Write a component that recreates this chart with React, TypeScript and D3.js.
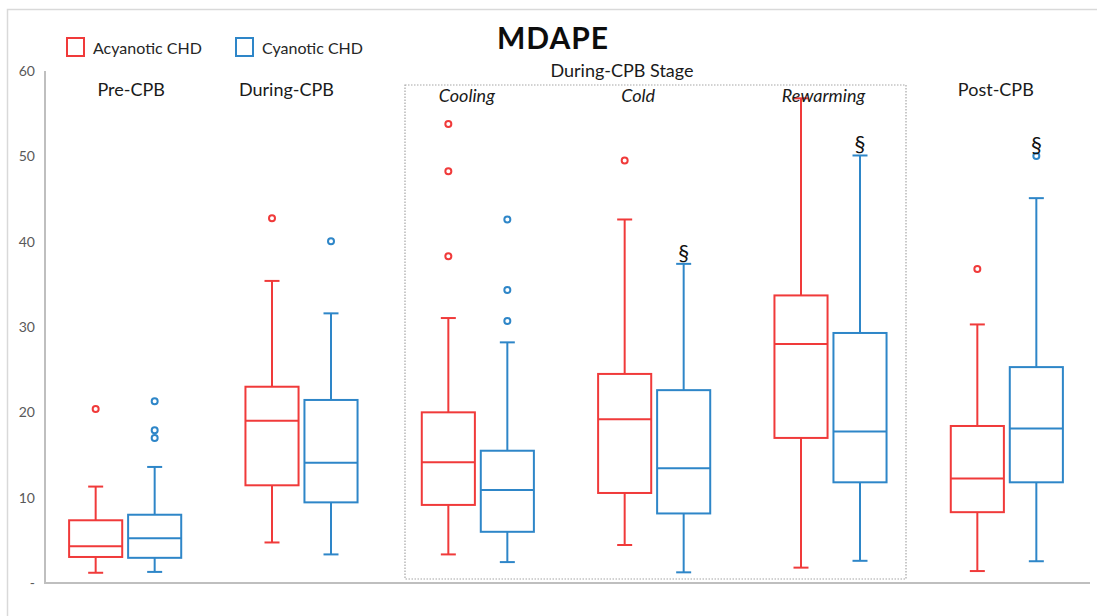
import React, { useEffect, useRef } from "react";
import * as d3 from "d3";

const groups = ["Pre-CPB", "During-CPB", "Cooling", "Cold", "Rewarming", "Post-CPB"];
const series = ["Acyanotic CHD", "Cyanotic CHD"];
const colors = ["#F03A3A", "#2E86C8"];

// [min, q1, median, q3, max] for each group
const acyanoticStats = [
  [1.2, 3.05, 4.3, 7.35, 11.3],
  [4.75, 11.45, 19.0, 23.0, 35.4],
  [3.35, 9.15, 14.15, 20.0, 31.05],
  [4.45, 10.55, 19.2, 24.5, 42.6],
  [1.8, 17.0, 28.0, 33.7, 56.8],
  [1.4, 8.3, 12.25, 18.4, 30.3],
];
const cyanoticStats = [
  [1.3, 2.95, 5.25, 8.0, 13.6],
  [3.35, 9.45, 14.1, 21.45, 31.6],
  [2.45, 6.0, 10.9, 15.5, 28.2],
  [1.25, 8.15, 13.45, 22.6, 37.4],
  [2.6, 11.8, 17.75, 29.3, 50.1],
  [2.55, 11.8, 18.1, 25.3, 45.1],
];
const acyanoticOutliers = [[20.4], [42.75], [53.8, 48.25, 38.3], [49.5], [], [36.8]];
const cyanoticOutliers = [[21.3, 17.9, 17.0], [40.05], [42.6, 34.35, 30.7], [], [], [50.05]];

// groups where the cyanotic box carries a § mark
const markedGroups = ["Cold", "Rewarming", "Post-CPB"];
const stageGroups = ["Cooling", "Cold", "Rewarming"];
const yTicks = [0, 10, 20, 30, 40, 50, 60];

export default function App() {
  const ref = useRef<SVGSVGElement>(null);

  useEffect(() => {
    const svg = d3.select(ref.current);
    svg.selectAll("*").remove();

    const width = 1097;
    const height = 616;
    const font = "Lato, 'Open Sans', sans-serif";

    svg.attr("width", width).attr("height", height);

    svg.append("rect")
      .attr("width", width).attr("height", height).attr("fill", "#fff");
    // outer frame
    svg.append("rect")
      .attr("x", 7.5).attr("y", 9.5)
      .attr("width", 1120).attr("height", 640)
      .attr("fill", "none").attr("stroke", "#d9d9d9").attr("stroke-width", 1.5);

    const y = d3.scaleLinear().domain([0, 60]).range([583, 71]);
    const x = d3.scaleBand().domain(groups).range([37, 1095]).padding(0);
    const xs = d3.scaleBand().domain(series).range([-59, 59]).padding(0);
    const cx = (g: string, s: string) => (x(g) as number) + x.bandwidth() / 2 + (xs(s) as number) + xs.bandwidth() / 2;
    const boxW = xs.bandwidth() * 0.9;
    const capW = 15;

    // axes
    svg.append("line")
      .attr("x1", 45).attr("x2", 45).attr("y1", y(60)).attr("y2", y(0))
      .attr("stroke", "#bfbfbf").attr("stroke-width", 2);
    svg.append("line")
      .attr("x1", 44).attr("x2", 1090).attr("y1", y(0)).attr("y2", y(0))
      .attr("stroke", "#bfbfbf").attr("stroke-width", 2);

    svg.append("g")
      .selectAll("text")
      .data(yTicks)
      .join("text")
      .attr("x", 35)
      .attr("y", d => y(d) + 5)
      .attr("text-anchor", "end")
      .attr("font-family", font)
      .attr("font-size", 14)
      .attr("fill", "#595959")
      .text(d => (d === 0 ? "-" : String(d)));

    // dotted frame around the during-CPB stages
    const stageLeft = 405;
    const stageRight = 906;
    svg.append("rect")
      .attr("x", stageLeft).attr("y", 85)
      .attr("width", stageRight - stageLeft).attr("height", 579 - 85)
      .attr("fill", "none").attr("stroke", "#a6a6a6")
      .attr("stroke-width", 1.2).attr("stroke-dasharray", "1.5,1.5");

    const allStats = [acyanoticStats, cyanoticStats];
    const allOutliers = [acyanoticOutliers, cyanoticOutliers];

    series.forEach((s, si) => {
      const color = colors[si];
      const layer = svg.append("g").attr("stroke", color).attr("stroke-width", 2).attr("fill", "none");
      groups.forEach((g, gi) => {
        const [lo, q1, med, q3, hi] = allStats[si][gi];
        const c = cx(g, s);
        const b = layer.append("g");
        b.append("line").attr("x1", c).attr("x2", c).attr("y1", y(hi)).attr("y2", y(q3));
        b.append("line").attr("x1", c).attr("x2", c).attr("y1", y(q1)).attr("y2", y(lo));
        b.append("line").attr("x1", c - capW / 2).attr("x2", c + capW / 2).attr("y1", y(hi)).attr("y2", y(hi));
        b.append("line").attr("x1", c - capW / 2).attr("x2", c + capW / 2).attr("y1", y(lo)).attr("y2", y(lo));
        b.append("rect")
          .attr("x", c - boxW / 2).attr("y", y(q3))
          .attr("width", boxW).attr("height", y(q1) - y(q3))
          .attr("fill", "#fff");
        b.append("line").attr("x1", c - boxW / 2).attr("x2", c + boxW / 2).attr("y1", y(med)).attr("y2", y(med));
        b.selectAll("circle")
          .data(allOutliers[si][gi])
          .join("circle")
          .attr("cx", c).attr("cy", d => y(d)).attr("r", 3)
          .attr("fill", "#fff");
      });
    });

    // § marks over cyanotic boxes
    svg.append("g")
      .selectAll("text")
      .data(markedGroups)
      .join("text")
      .attr("x", g => cx(g, series[1]))
      .attr("y", g => {
        const gi = groups.indexOf(g);
        const top = Math.max(cyanoticStats[gi][4], ...cyanoticOutliers[gi]);
        return y(top) - 4;
      })
      .attr("text-anchor", "middle")
      .attr("font-family", font)
      .attr("font-size", 22)
      .attr("fill", "#111")
      .text("§");

    // group labels
    const labelDx = [6, -15, -11, -16, -7, -11];
    svg.append("g")
      .selectAll("text")
      .data(groups)
      .join("text")
      .attr("x", (g, i) => (x(g) as number) + x.bandwidth() / 2 + labelDx[i])
      .attr("y", g => (stageGroups.includes(g) ? 102 : 96))
      .attr("text-anchor", "middle")
      .attr("font-family", font)
      .attr("font-size", 18)
      .attr("font-style", g => (stageGroups.includes(g) ? "italic" : "normal"))
      .attr("fill", "#1a1a1a")
      .text(g => g);

    svg.append("text")
      .attr("x", 622).attr("y", 77)
      .attr("text-anchor", "middle")
      .attr("font-family", font).attr("font-size", 18)
      .attr("fill", "#1a1a1a")
      .text("During-CPB Stage");

    // title
    svg.append("text")
      .attr("x", 553).attr("y", 49)
      .attr("text-anchor", "middle")
      .attr("font-family", font).attr("font-size", 30).attr("font-weight", "bold")
      .attr("letter-spacing", 1)
      .attr("fill", "#0d0d0d")
      .text("MDAPE");

    // legend
    const legendX = [67, 236];
    const legend = svg.append("g")
      .selectAll("g")
      .data(series)
      .join("g")
      .attr("transform", (d, i) => `translate(${legendX[i]},38)`);
    legend.append("rect")
      .attr("width", 17).attr("height", 18)
      .attr("fill", "none").attr("stroke", (d, i) => colors[i]).attr("stroke-width", 2);
    legend.append("text")
      .attr("x", 26).attr("y", 16)
      .attr("font-family", font).attr("font-size", 16)
      .attr("fill", "#262626")
      .text(d => d);
  }, []);

  return (
    <div style={{ position: "fixed", left: 0, top: 0 }}>
      <svg ref={ref}></svg>
    </div>
  );
}
